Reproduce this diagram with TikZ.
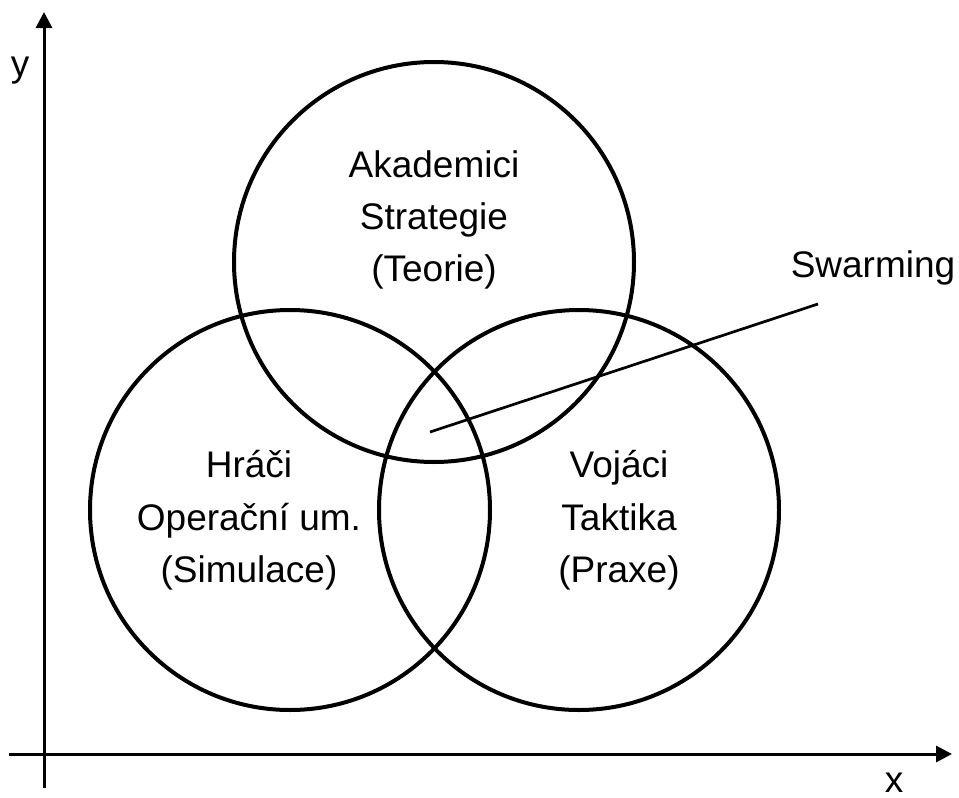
\documentclass[tikz,border=0pt]{standalone}
\usepackage{fontspec}
\setmainfont{Liberation Sans}
\usetikzlibrary{arrows.meta}
\begin{document}
\begin{tikzpicture}[x=1pt,y=-1pt,
  ring/.style={draw,circle,line width=4pt,minimum size=400pt,inner sep=0pt},
  lbl/.style={anchor=base,inner sep=0pt,font=\fontsize{37}{44}\selectfont},
  axis/.style={line width=3pt,-{Triangle[length=16pt,width=16pt]}},
  pointer/.style={line width=2.7pt}]
\useasboundingbox (0,0) rectangle (959,798);
% axes
\coordinate (yb) at (44,788);
\coordinate (yt) at (44,12);
\coordinate (xl) at (9,754);
\coordinate (xr) at (952,754);
\draw[axis] (yb) -- (yt);
\draw[axis] (xl) -- (xr);
\node[lbl] (ylab) at (20,76) {y};
\node[lbl] (xlab) at (894,792) {x};
% circles
\node[ring] (top) at (434,262) {};
\node[ring] (left) at (290,510) {};
\node[ring] (right) at (579,510) {};
% texts
\node[lbl] (t1) at (434,177) {Akademici};
\node[lbl] (t2) at (434,229) {Strategie};
\node[lbl] (t3) at (434,281) {(Teorie)};
\node[lbl] (l1) at (249,477) {Hráči};
\node[lbl] (l2) at (249,530) {Operační um.};
\node[lbl] (l3) at (249,582) {(Simulace)};
\node[lbl] (r1) at (619,477) {Vojáci};
\node[lbl] (r2) at (619,530) {Taktika};
\node[lbl] (r3) at (619,582) {(Praxe)};
\node[lbl] (sw) at (873,277) {Swarming};
% pointer
\coordinate (swa) at (430,432);
\coordinate (swb) at (818,304);
\draw[pointer] (swa) -- (swb);
\end{tikzpicture}
\end{document}
